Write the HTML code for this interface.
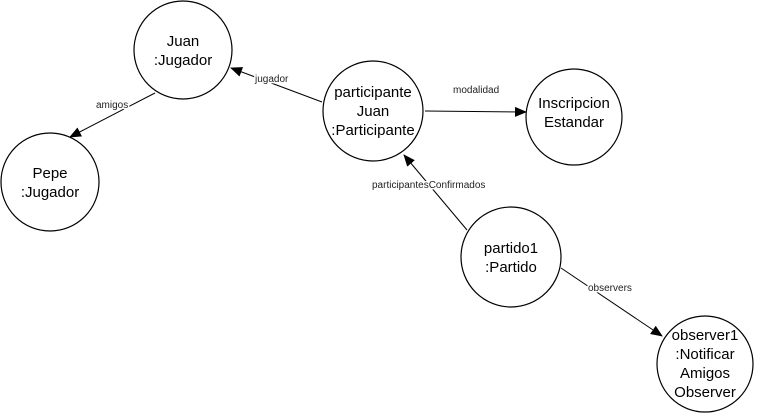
<!DOCTYPE html>
<html><head><style>body{margin:0;background:#fff}</style></head><body>
<svg width="758" height="414" viewBox="0 0 758 414" xmlns="http://www.w3.org/2000/svg" font-family="Liberation Sans, Arial, sans-serif">
<defs><marker id="a" markerWidth="12" markerHeight="10" refX="11" refY="5" orient="auto" markerUnits="userSpaceOnUse"><path d="M0,0 L12,5 L0,10 z" fill="#000"/></marker></defs>
<g fill="#fff" stroke="#000" stroke-width="1.2">
<circle cx="183" cy="50" r="49"/>
<circle cx="50" cy="182" r="49"/>
<circle cx="373" cy="111" r="50"/>
<circle cx="574" cy="117" r="48"/>
<circle cx="511" cy="257" r="50"/>
<circle cx="705" cy="364" r="48"/>
</g>
<g stroke="#000" stroke-width="1" marker-end="url(#a)">
<line x1="322" y1="102" x2="231" y2="68"/>
<line x1="155" y1="93" x2="70" y2="137"/>
<line x1="425" y1="111" x2="526" y2="112"/>
<line x1="467" y1="230" x2="404" y2="155"/>
<line x1="561" y1="268" x2="662" y2="336"/>
</g>
<g font-size="10" fill="#222">
<text x="255" y="82" style="paint-order:stroke" stroke="#fff" stroke-width="3">jugador</text>
<text x="96" y="108" style="paint-order:stroke" stroke="#fff" stroke-width="3">amigos</text>
<text x="453" y="93">modalidad</text>
<text x="372" y="188" style="paint-order:stroke" stroke="#fff" stroke-width="3">participantesConfirmados</text>
<text x="588" y="291" style="paint-order:stroke" stroke="#fff" stroke-width="3">observers</text>
</g>
<g font-size="15" text-anchor="middle" fill="#000">
<text x="183" y="46">Juan</text><text x="183" y="65">:Jugador</text>
<text x="50" y="178">Pepe</text><text x="50" y="197">:Jugador</text>
<text x="373" y="97">participante</text><text x="373" y="116">Juan</text><text x="373" y="135">:Participante</text>
<text x="574" y="108">Inscripcion</text><text x="574" y="127">Estandar</text>
<text x="511" y="253">partido1</text><text x="511" y="272">:Partido</text>
<text x="705" y="340">observer1</text><text x="705" y="359">:Notificar</text><text x="705" y="378">Amigos</text><text x="705" y="397">Observer</text>
</g>
</svg>
</body></html>
